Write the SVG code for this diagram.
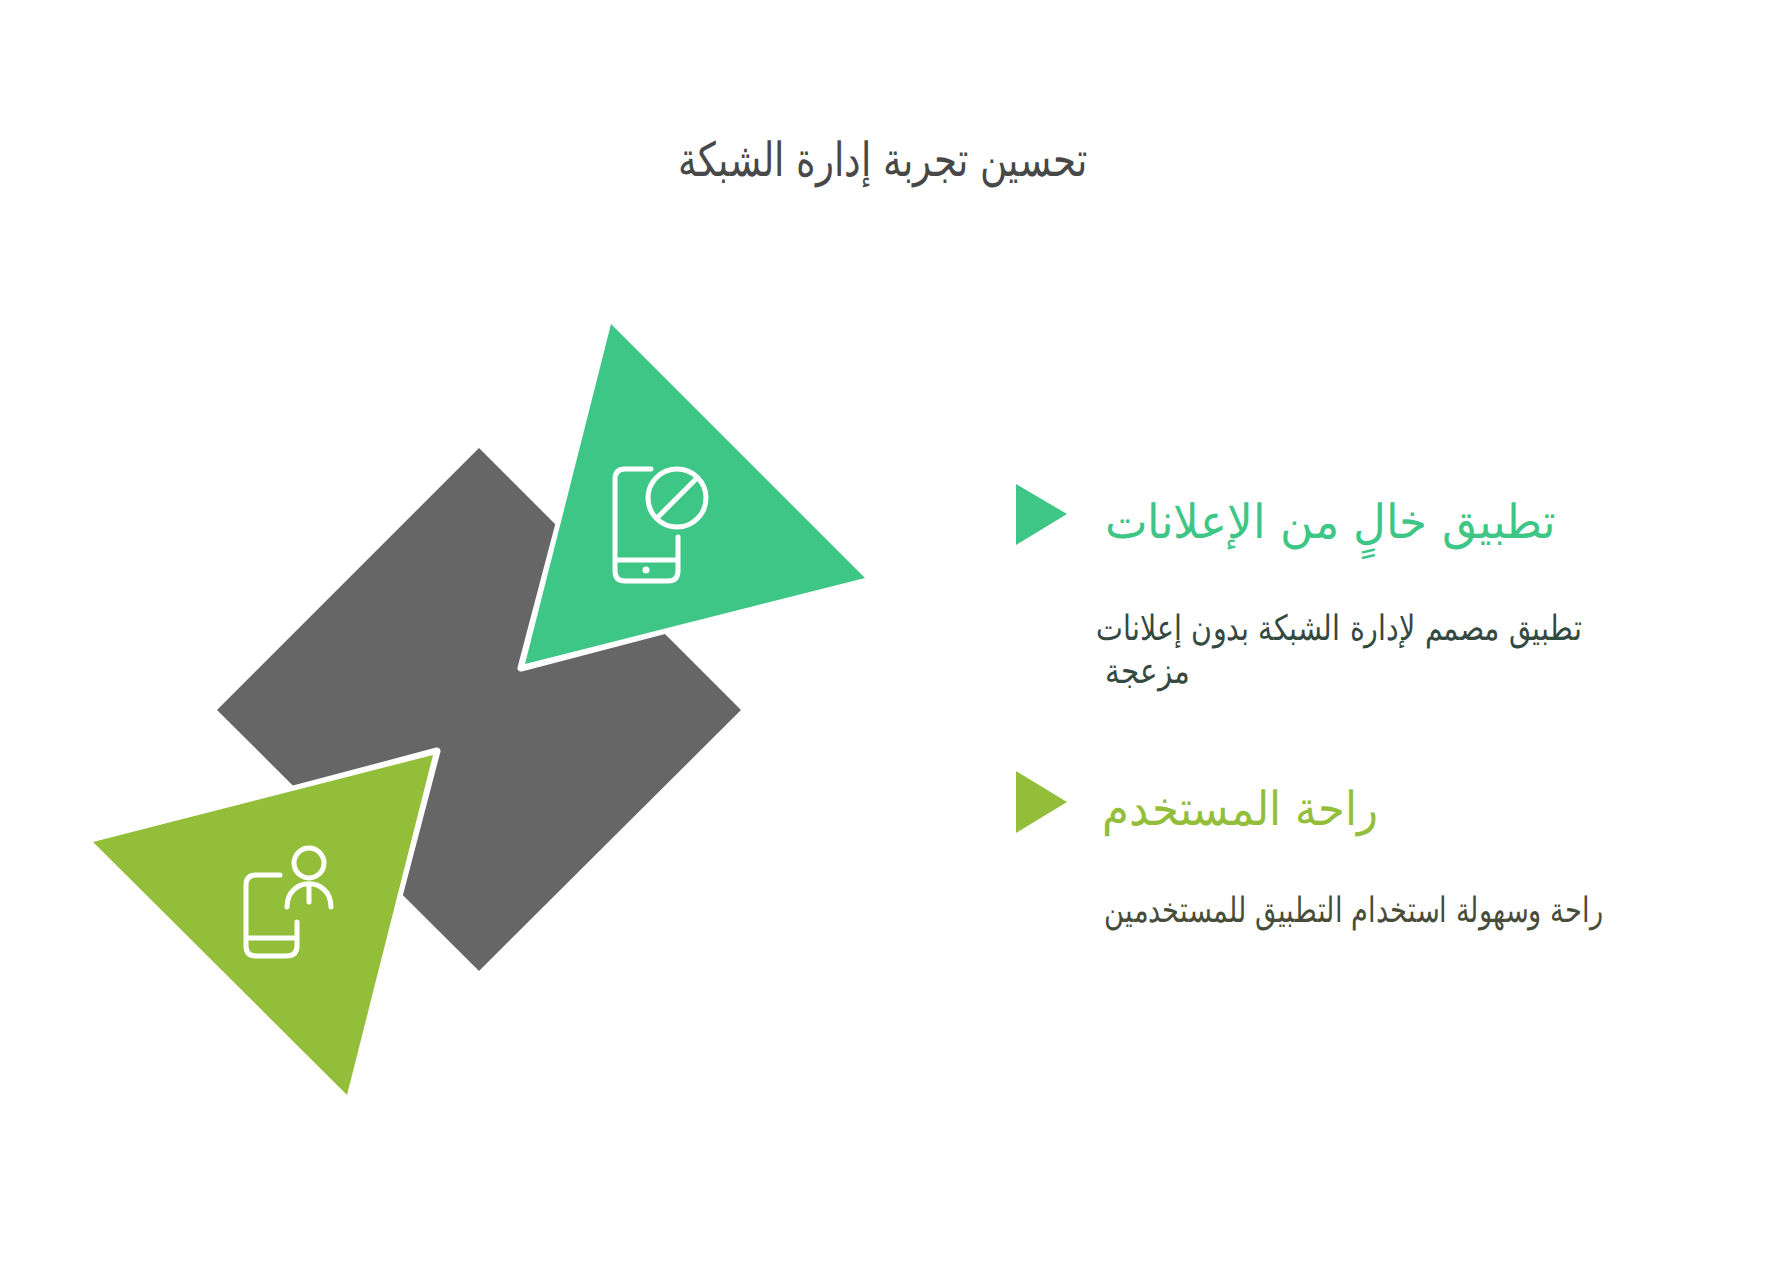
<svg xmlns="http://www.w3.org/2000/svg" width="1765" height="1276" viewBox="0 0 1765 1276">
<style>
text{font-family:"DejaVu Sans",sans-serif;direction:rtl;text-anchor:start;font-weight:200}
.t{font-size:47px;fill:#484848}
.h{font-size:47px}
.b{font-size:35px}
.i{fill:none;stroke:#fff;stroke-width:5;stroke-linecap:round;stroke-linejoin:round}
.cut{fill:none;stroke:#fff;stroke-width:7;stroke-linejoin:round;stroke-linecap:round}
</style>
<rect width="1765" height="1276" fill="#fff"/>
<g id="title"><text class="t" x="1087" y="176" textLength="409" lengthAdjust="spacingAndGlyphs">تحسين تجربة إدارة الشبكة</text></g>
<g id="center"><polygon points="479,448 741,710 479,971 217,710" fill="#666"/></g>
<g id="node-ad-free">
<polyline class="cut" points="560,520 521,668 670,629"/>
<polygon points="611,324 865,578 525,664" fill="#3EC686"/>
<path class="i" d="M651 469H625Q615 469 615 479V571Q615 581 625 581H668Q678 581 678 571V537M615 560H678"/>
<circle class="i" cx="677" cy="498" r="29"/>
<path class="i" d="M658 517L696 479"/>
<circle cx="646" cy="570" r="3.5" fill="#fff"/>
</g>
<g id="node-comfort">
<polyline class="cut" points="290,790 437,751 398,900"/>
<polygon points="93,842 347,1095 433,755" fill="#93BE3A"/>
<path class="i" d="M280 875H256Q246 875 246 885V946Q246 956 256 956H286Q297 956 297 946V922M246 938H297"/>
<circle class="i" cx="309" cy="863" r="15"/>
<path class="i" d="M287 907C287 876 331 876 331 907M309 884V902"/>
</g>
<g id="item-ad-free">
<polygon points="1016,484 1067,514 1016,545" fill="#3EC686"/>
<text class="h" x="1556" y="538" fill="#3EC686" textLength="451" lengthAdjust="spacingAndGlyphs">تطبيق خالٍ من الإعلانات</text>
<text class="b" x="1582" y="640" fill="#34493F" textLength="486" lengthAdjust="spacingAndGlyphs">تطبيق مصمم لإدارة الشبكة بدون إعلانات</text>
<text class="b" x="1190" y="683" fill="#34493F" textLength="85" lengthAdjust="spacingAndGlyphs">مزعجة</text>
</g>
<g id="item-comfort">
<polygon points="1016,771 1067,802 1016,833" fill="#93BE3A"/>
<text class="h" x="1378" y="825" fill="#93BE3A" textLength="276" lengthAdjust="spacingAndGlyphs">راحة المستخدم</text>
<text class="b" x="1603" y="922" fill="#484D39" textLength="499" lengthAdjust="spacingAndGlyphs">راحة وسهولة استخدام التطبيق للمستخدمين</text>
</g>
<g id="connectors"></g>
</svg>
